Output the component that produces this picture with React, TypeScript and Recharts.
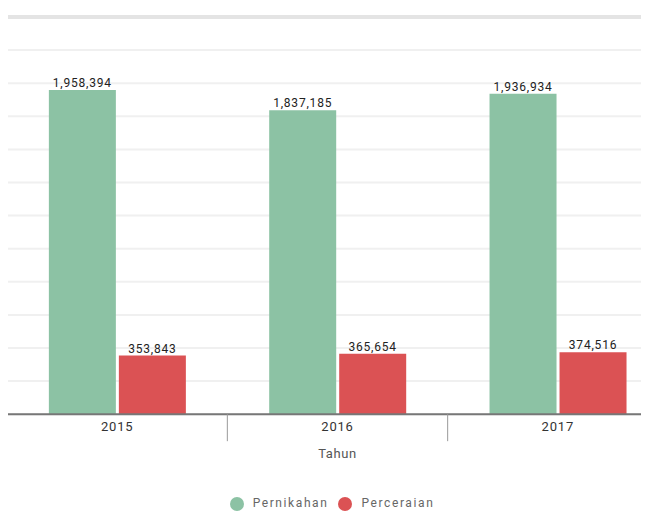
import { BarChart, Bar, XAxis, YAxis, CartesianGrid, Legend, LabelList, ReferenceLine } from 'recharts'

const years = ['2015', '2016', '2017']
const pernikahan = [1958394, 1837185, 1936934]
const perceraian = [353843, 365654, 374516]
const yTicks = [0, 200000, 400000, 600000, 800000, 1000000, 1200000, 1400000, 1600000, 1800000, 2000000, 2200000, 2400000]

const data = years.map((y, i) => ({
    tahun: y,
    Pernikahan: pernikahan[i],
    Perceraian: perceraian[i],
}))

const fmt = (v: any) => Number(v).toLocaleString('en-US')
const legendOrder = ['Pernikahan', 'Perceraian']

// year label plus a separator line at the left edge of each band (except the first)
function YearTick({ x, y, payload, index }: any) {
    return (
        <g>
            <text x={x} y={y + 8} dy="0.71em" textAnchor="middle" fill="#333" fontSize={13} letterSpacing={0.8}>
                {payload.value}
            </text>
            {index > 0 && (
                <line x1={x - payload.offset} x2={x - payload.offset} y1={y} y2={y + 27} stroke="#999" />
            )}
        </g>
    )
}

export default function App() {
    return (
        <div style={{ width: 641, overflow: 'hidden', fontFamily: 'Roboto, sans-serif' }}>
            <BarChart
                width={660}
                height={503}
                data={data}
                margin={{ top: 9, right: 0, left: -1, bottom: 0 }}
                barCategoryGap="19%"
                barGap={3}
            >
                <CartesianGrid vertical={false} stroke="#f0f0f0" strokeWidth={2} />
                <YAxis hide domain={[0, 2400000]} ticks={yTicks} />
                <ReferenceLine y={2400000} stroke="#e4e4e4" strokeWidth={4} />

                <XAxis
                    dataKey="tahun"
                    height={51}
                    tickLine={false}
                    tickSize={0}
                    tickMargin={0}
                    axisLine={{ stroke: '#777', strokeWidth: 2 }}
                    tick={<YearTick />}
                    label={{ value: 'Tahun', position: 'insideBottom', offset: 7, fill: '#555', fontSize: 13, letterSpacing: 0.6 }}
                />

                <Legend
                    iconType="circle"
                    iconSize={14}
                    itemSorter={(item: any) => legendOrder.indexOf(item.value)}
                    wrapperStyle={{ paddingTop: 31, paddingRight: 1, fontSize: 12, boxSizing: 'border-box' }}
                    formatter={(v: any) => <span style={{ color: '#666', letterSpacing: 1.6, marginLeft: 5 }}>{v}</span>}
                />

                <Bar dataKey="Pernikahan" fill="#8cc2a4" isAnimationActive={false}>
                    <LabelList dataKey="Pernikahan" position="top" offset={3} formatter={fmt} fill="#222" fontSize={12} letterSpacing={0.8} />
                </Bar>
                <Bar dataKey="Perceraian" fill="#db5254" isAnimationActive={false}>
                    <LabelList dataKey="Perceraian" position="top" offset={3} formatter={fmt} fill="#222" fontSize={12} letterSpacing={0.8} />
                </Bar>
            </BarChart>
        </div>
    )
}
